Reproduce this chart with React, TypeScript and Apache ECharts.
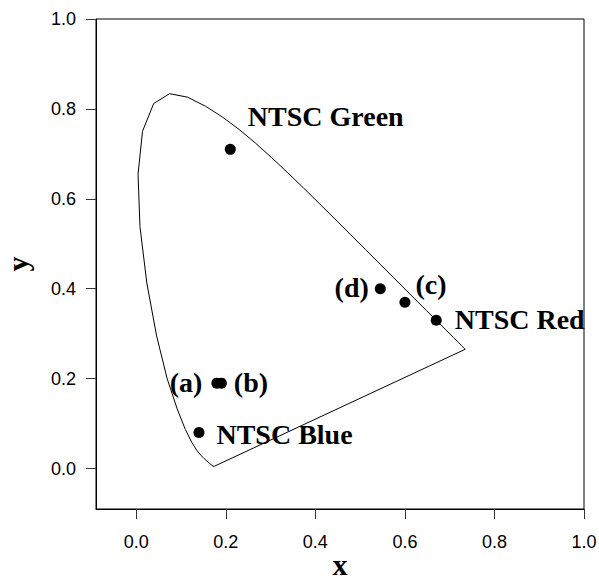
import React, { useEffect, useRef } from "react";
import * as echarts from "echarts";

// Tick values shown on both axes
const tickValues = [0, 0.2, 0.4, 0.6, 0.8, 1.0];

// CIE 1931 spectral locus (chromaticity x, y)
const locusX = [0.1741, 0.1738, 0.1733, 0.1726, 0.1714, 0.1689, 0.1644, 0.1611, 0.1566, 0.151, 0.144, 0.1355, 0.1241, 0.1096, 0.0913, 0.0687, 0.0454, 0.0235, 0.0082, 0.0039, 0.0139, 0.0389, 0.0743, 0.1142, 0.1547, 0.1929, 0.2296, 0.2658, 0.3016, 0.3373, 0.3731, 0.4087, 0.4441, 0.4788, 0.5125, 0.5448, 0.5752, 0.6029, 0.627, 0.6482, 0.6658, 0.6801, 0.6915, 0.7006, 0.7079, 0.714, 0.719, 0.726, 0.73, 0.7334, 0.7347];
const locusY = [0.005, 0.0049, 0.0048, 0.0048, 0.0051, 0.0069, 0.0109, 0.0138, 0.0177, 0.0227, 0.0297, 0.0399, 0.0578, 0.0868, 0.1327, 0.2007, 0.295, 0.4127, 0.5384, 0.6548, 0.7502, 0.812, 0.8338, 0.8262, 0.8059, 0.7816, 0.7543, 0.7243, 0.6923, 0.6589, 0.6245, 0.5896, 0.5547, 0.5202, 0.4866, 0.4544, 0.4242, 0.3965, 0.3725, 0.3514, 0.334, 0.3197, 0.3083, 0.2993, 0.292, 0.2859, 0.2809, 0.274, 0.27, 0.2666, 0.2653];

// Marked chromaticity points
const pointNames = ["NTSC Green", "NTSC Red", "NTSC Blue", "(a)", "(b)", "(c)", "(d)"];
const pointX = [0.21, 0.67, 0.14, 0.18, 0.19, 0.6, 0.545];
const pointY = [0.71, 0.33, 0.08, 0.19, 0.19, 0.37, 0.4];

// Label placement (style only)
const labelPlacement: { position: string; offset: number[] }[] = [
  { position: "right", offset: [12, -33] },
  { position: "right", offset: [13, -1] },
  { position: "right", offset: [12, 2] },
  { position: "left", offset: [-9, -1] },
  { position: "right", offset: [7, -1] },
  { position: "right", offset: [5, -18] },
  { position: "left", offset: [-6, -1] },
];

const SANS = "'Liberation Sans', Arial, sans-serif";
const SERIF = "'Liberation Serif', 'Times New Roman', serif";

export default function App() {
  const ref = useRef<HTMLDivElement>(null);

  useEffect(() => {
    if (!ref.current) return;
    const chart = echarts.init(ref.current, undefined, { renderer: "svg" });

    const locus = locusX.map((x, i) => [x, locusY[i]]);
    locus.push([locusX[0], locusY[0]]);

    const points = pointX.map((x, i) => ({
      name: pointNames[i],
      value: [x, pointY[i]],
      label: {
        show: true,
        formatter: pointNames[i],
        position: labelPlacement[i].position,
        offset: labelPlacement[i].offset,
        distance: 0,
        fontFamily: SERIF,
        fontWeight: "bold",
        fontSize: 28,
        color: "#000",
      },
    }));

    const axisCommon = {
      type: "value" as const,
      min: -0.09,
      max: 1.0,
      splitLine: { show: false },
      axisLine: { show: true, onZero: false, lineStyle: { color: "#000", width: 1 } },
      axisTick: { show: true, inside: false, length: 10, customValues: tickValues, lineStyle: { color: "#333", width: 1 } },
      axisLabel: {
        customValues: tickValues,
        formatter: (v: number) => v.toFixed(1),
        fontFamily: SANS,
        fontSize: 18,
        color: "#000",
      },
      nameLocation: "middle" as const,
      nameMoveOverlap: false,
      nameTextStyle: { fontFamily: SERIF, fontWeight: "bold", fontSize: 30, color: "#000" },
    };

    chart.setOption({
      animation: false,
      backgroundColor: "#fff",
      grid: {
        left: 96, right: 15, top: 19, bottom: 69,
        outerBoundsMode: "none",
        containLabel: false,
        show: true, borderColor: "#000", borderWidth: 1, backgroundColor: "transparent",
      },
      xAxis: { ...axisCommon, name: "x", nameGap: 40, axisLabel: { ...axisCommon.axisLabel, margin: 24 } },
      yAxis: { ...axisCommon, name: "y", nameGap: 64, nameRotate: 90, axisLabel: { ...axisCommon.axisLabel, margin: 20 } },
      series: [
        {
          type: "line",
          data: locus,
          showSymbol: false,
          symbol: "none",
          smooth: false,
          lineStyle: { color: "#000", width: 1 },
          silent: true,
        },
        {
          type: "scatter",
          data: points,
          symbol: "circle",
          symbolSize: 11,
          itemStyle: { color: "#000", opacity: 1 },
        },
      ],
    });

    return () => chart.dispose();
  }, []);

  return (
    <div
      ref={ref}
      style={{ position: "fixed", left: 0, top: 0, width: 599, height: 578, background: "#fff" }}
    />
  );
}
